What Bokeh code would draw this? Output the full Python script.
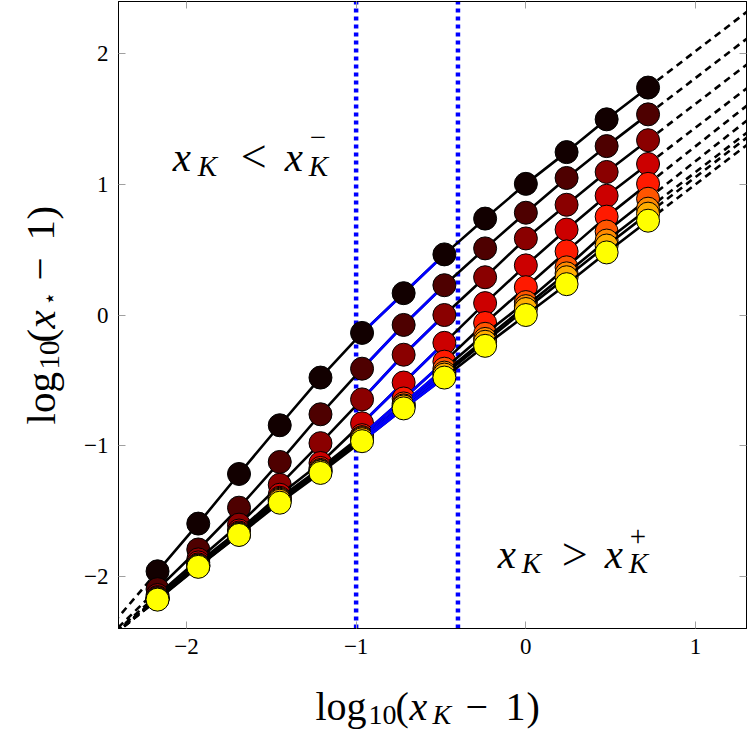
import numpy as np
from bokeh.plotting import figure
from bokeh.layouts import row, column
from bokeh.models import Label, LinearAxis, FixedTicker, CustomJSTickFormatter
from bokeh.core.properties import value
from bokeh.embed import file_html
from bokeh.resources import INLINE

# ---------------- data ----------------
x_vals = [-2.17, -1.93, -1.69, -1.45, -1.21, -0.965, -0.72, -0.48, -0.24, 0.0, 0.24, 0.476, 0.72]
y_s0 = [-1.962, -1.597, -1.217, -0.844, -0.479, -0.137, 0.167, 0.464, 0.738, 1.004, 1.247, 1.498, 1.741]
y_s1 = [-2.099, -1.795, -1.475, -1.125, -0.760, -0.411, -0.076, 0.228, 0.510, 0.783, 1.049, 1.293, 1.536]
y_s2 = [-2.144, -1.871, -1.605, -1.300, -0.981, -0.646, -0.304, 0.000, 0.289, 0.586, 0.844, 1.095, 1.338]
y_s3 = [-2.160, -1.894, -1.650, -1.376, -1.133, -0.829, -0.517, -0.213, 0.091, 0.380, 0.654, 0.913, 1.156]
y_s4 = [-2.167, -1.909, -1.665, -1.399, -1.171, -0.920, -0.639, -0.357, -0.061, 0.213, 0.487, 0.753, 1.004]
y_s5 = [-2.171, -1.916, -1.673, -1.407, -1.186, -0.935, -0.677, -0.411, -0.144, 0.099, 0.365, 0.639, 0.890]
y_s6 = [-2.175, -1.920, -1.677, -1.414, -1.194, -0.943, -0.692, -0.441, -0.183, 0.068, 0.319, 0.570, 0.814]
y_s7 = [-2.175, -1.924, -1.681, -1.422, -1.198, -0.951, -0.700, -0.456, -0.205, 0.046, 0.289, 0.532, 0.776]
y_s8 = [-2.179, -1.928, -1.684, -1.437, -1.209, -0.966, -0.715, -0.479, -0.236, 0.000, 0.236, 0.479, 0.722]
series = [y_s0, y_s1, y_s2, y_s3, y_s4, y_s5, y_s6, y_s7, y_s8]
colors = ["#120000", "#4e0000", "#8a0000", "#cc0000", "#ff1a00", "#ff5500", "#ff8a00", "#ffae00", "#ffff00"]

x_lo, x_hi = -1.0, -0.4          # the two dotted boundaries
x_ticks = [-2, -1, 0, 1]
y_ticks = [-2, -1, 0, 1, 2]
x_range = (-2.4, 1.3)
y_range = (-2.4, 2.4)

FONT = "Liberation Serif"
TICK_C = "#a0a0a0"

p = figure(width=677, height=664, x_range=x_range, y_range=y_range, title=None,
           output_backend="svg", toolbar_location=None,
           min_border_left=48, min_border_right=1, min_border_top=1, min_border_bottom=36)
p.grid.visible = False
p.outline_line_color = "black"
p.outline_line_width = 1

fmt = CustomJSTickFormatter(code="return tick < 0 ? '\u2212' + Math.abs(tick) : tick.toString();")
for ax, ticks in ((p.xaxis[0], x_ticks), (p.yaxis[0], y_ticks)):
    ax.ticker = FixedTicker(ticks=ticks)
    ax.formatter = fmt
    ax.major_tick_in = 7
    ax.major_tick_out = 0
    ax.major_tick_line_color = TICK_C
    ax.minor_tick_line_color = None
    ax.axis_line_color = "black"
    ax.major_label_text_font = FONT
    ax.major_label_text_font_size = "23px"
    ax.major_label_text_color = "black"
    ax.major_label_standoff = 10

blank = CustomJSTickFormatter(code="return '';")
for loc, ticks in (("right", y_ticks), ("above", x_ticks)):
    ax = LinearAxis(ticker=FixedTicker(ticks=ticks), formatter=blank,
                    major_tick_in=7, major_tick_out=0, major_tick_line_color=TICK_C,
                    minor_tick_line_color=None, axis_line_color="black",
                    major_label_text_font_size="0px", major_label_standoff=0)
    p.add_layout(ax, loc)

# dotted vertical boundaries
p.segment(x0=[x_lo, x_hi], y0=[y_range[0]] * 2, x1=[x_lo, x_hi], y1=[y_range[1]] * 2,
          line_color="#0000ff", line_width=4.5, line_dash="4 4", line_cap="butt")

xs = np.array(x_vals)
# dashed extrapolations of the end segments
for ys in series:
    ys = np.array(ys)
    sr = (ys[-1] - ys[-2]) / (xs[-1] - xs[-2])
    sl = (ys[1] - ys[0]) / (xs[1] - xs[0])
    xr_end = x_range[1] + 0.2
    xl_end = x_range[0] - 0.2
    p.line([xs[-1], xr_end], [ys[-1], ys[-1] + sr * (xr_end - xs[-1])],
           line_color="black", line_width=2.6, line_dash="7 5")
    p.line([xs[0], xl_end], [ys[0], ys[0] + sl * (xl_end - xs[0])],
           line_color="black", line_width=2.6, line_dash="7 5")

inside = (xs >= x_lo) & (xs <= x_hi)
for ys, c in zip(series, colors):
    ys = np.array(ys)
    p.line(xs, ys, line_color="black", line_width=2.6)
    p.line(xs[inside], ys[inside], line_color="#0000ff", line_width=2.8)
    p.scatter(xs, ys, size=23, fill_color=c, line_color="black", line_width=1)


def lab(f, text, x, y, size, style="normal", xo=0, yo=0, angle=0.0, font=FONT):
    f.add_layout(Label(x=x, y=y, x_offset=xo, y_offset=yo, angle=angle,
                       text=text, text_font=font, text_font_size=f"{size}px",
                       text_font_style=style, text_color="black",
                       text_align="left", text_baseline="alphabetic"))


# region labels (anchored in data space, pieces offset in px)
ax1, ay1 = -2.08, 1.21
lab(p, "x", ax1, ay1, 41, "italic")
lab(p, "K", ax1, ay1, 29, "italic", xo=25, yo=-9)
lab(p, "<", ax1, ay1, 46, xo=68)
lab(p, "x", ax1, ay1, 41, "italic", xo=112)
lab(p, "\u2212", ax1, ay1, 29, xo=137, yo=19)
lab(p, "K", ax1, ay1, 29, "italic", xo=136, yo=-9)

ax2, ay2 = -0.165, -1.833
lab(p, "x", ax2, ay2, 41, "italic")
lab(p, "K", ax2, ay2, 29, "italic", xo=24, yo=-9)
lab(p, ">", ax2, ay2, 46, xo=64)
lab(p, "x", ax2, ay2, 41, "italic", xo=107)
lab(p, "+", ax2, ay2, 29, xo=132, yo=18)
lab(p, "K", ax2, ay2, 29, "italic", xo=131, yo=-9)


def small_fig(w, h, xr, yr):
    f = figure(width=w, height=h, x_range=xr, y_range=yr, title=None,
               x_axis_location=None, y_axis_location=None, min_border=0,
               output_backend="svg", toolbar_location=None)
    f.outline_line_color = None
    f.grid.visible = False
    return f


def tp(f, text, x, y, size, style="normal", angle=0.0, font=FONT):
    f.text(x=[x], y=[y], text=[text], text_font=value(font), text_font_size=value(f"{size}px"),
           text_font_style=style, angle=angle, text_align="left",
           text_baseline="alphabetic", text_color="black")


PAGE_H = 730
STRIP_H = 66
# x-axis title strip (page x 70..747, page y 664..730)
xf = small_fig(677, STRIP_H, (70, 747), (PAGE_H - STRIP_H, PAGE_H))
bx = PAGE_H - 706 + (PAGE_H - STRIP_H)
tp(xf, "log", 315, bx, 40)
tp(xf, "10", 368, bx - 8, 28)
tp(xf, "(", 395, bx, 40)
tp(xf, "x", 409, bx, 40, "italic")
tp(xf, "K", 432, bx - 8, 28, "italic")
tp(xf, "\u2212", 465, bx, 40)
tp(xf, "1", 505, bx, 40)
tp(xf, ")", 526, bx, 40)

# y-axis title strip (page x 0..70)
yf = small_fig(70, PAGE_H, (0, 70), (0, PAGE_H))
A = np.pi / 2
lx = 40
tp(yf, "log", lx, PAGE_H - 424, 41, angle=A)
tp(yf, "10", lx + 9, PAGE_H - 369, 29, angle=A)
tp(yf, "(", lx, PAGE_H - 342, 41, angle=A)
tp(yf, "x", lx, PAGE_H - 328, 41, "italic", angle=A)
tp(yf, "\u22c6", lx + 9, PAGE_H - 305, 22, angle=A, font="DejaVu Sans")
tp(yf, "\u2212", lx, PAGE_H - 280, 41, angle=A)
tp(yf, "1", lx, PAGE_H - 240, 41, angle=A)
tp(yf, ")", lx, PAGE_H - 219, 41, angle=A)

layout = row(yf, column(p, row(xf)))
open("out.html", "w").write(file_html(layout, INLINE))
